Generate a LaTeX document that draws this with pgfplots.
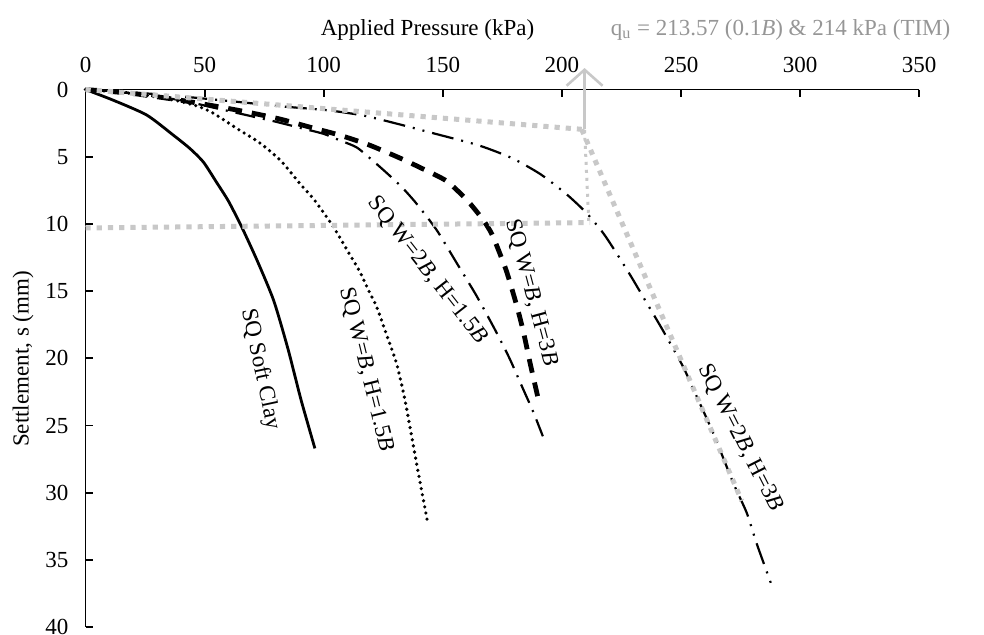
\documentclass[border=0pt]{standalone}
\usepackage{pgfplots}
\pgfplotsset{compat=1.18}
\usepackage{fontspec}
\setmainfont{Liberation Serif}
\usetikzlibrary{arrows.meta}

\definecolor{refgray}{RGB}{200,200,200}
\definecolor{titlegray}{RGB}{150,150,150}

% load-settlement curves (applied pressure kPa, settlement mm)
\pgfplotstableread{
p s
0 0
11.7 0.8
25.7 1.9
36.9 3.4
43.9 4.4
49.5 5.4
55 6.9
60 8.3
65.5 10.2
72 12.7
79 15.7
85 19.3
90.5 23.1
96.3 26.7
}\softclay

\pgfplotstableread{
p s
0 0
15 0.2
30 0.55
40 0.9
48 1.3
54 1.8
64 2.95
73 3.95
82 5.3
90 7.0
96 8.2
104 10.2
110 12.0
115 13.5
119 15.0
122.3 16.2
126.5 18.3
130.6 20.4
134 23.0
136.6 25.5
140 28.8
143.4 32.0
}\wbhonefive

\pgfplotstableread{
p s
0 0
20 0.3
40 0.8
55 1.4
70 2.0
80 2.4
90 2.85
100 3.3
107 3.8
113.8 4.3
120 5.2
126.4 6.2
133 7.3
139 8.5
147.4 10.45
155.8 12.9
164 15.3
172 17.9
178 20.0
183.5 22.2
188 24.0
192 25.8
}\wtwobhonefive

\pgfplotstableread{
p s
0 0
20 0.3
40 0.8
56.5 1.3
67.7 1.67
81.7 2.2
94.2 2.8
106.8 3.4
119.4 4.15
132 5.1
141 5.85
151.5 6.8
160 8.2
166.5 9.6
170.7 10.8
176.5 13.4
180.9 16.0
183.8 18.0
186.7 20.4
190.3 23.2
}\wbhthree

\pgfplotstableread{
p s
0 0
30 0.35
60 0.85
82 1.25
102 1.55
117 1.95
132 2.6
147 3.3
165 4.15
179 5.1
191 6.3
202 7.8
210.4 9.2
217.4 10.7
223 12.2
229 13.9
235 15.7
242 17.8
250.8 20.6
257 23.0
263.6 25.6
272 29.3
277.6 31.5
281.8 33.8
288.1 36.9
}\wtwobhthree

\begin{document}
\begin{tikzpicture}[font=\fontsize{11.5}{13.8}\selectfont]
\begin{axis}[
  scale only axis,
  width=416.75pt, height=268.75pt,
  xmin=0, xmax=350, ymin=0, ymax=40,
  y dir=reverse,
  axis x line*=top, axis y line*=left,
  axis line style={-, line width=0.9pt},
  tick align=inside, major tick length=3.5pt,
  tick style={black, line width=0.9pt},
  xtick={0,50,...,350}, ytick={0,5,...,40},
  /pgf/number format/assume math mode=true,
  xticklabel style={yshift=5pt},
  yticklabel style={xshift=-5pt},
  every axis plot/.append style={smooth, tension=0.4},
  clip=false,
]
\coordinate (BL) at (axis cs:-35.9,40.51);
\coordinate (TR) at (axis cs:377.2,-6.66);

\addplot[black, line width=1.4pt] table[x=p,y=s] {\softclay};
\addplot[black, line width=1.8pt, line cap=round, dash pattern=on 0pt off 3.1pt] table[x=p,y=s] {\wbhonefive};
\addplot[black, line width=1.1pt, dash pattern=on 10pt off 4pt on 1pt off 4pt] table[x=p,y=s] {\wtwobhonefive};
\addplot[black, line width=2.4pt, dash pattern=on 7pt off 5pt] table[x=p,y=s] {\wbhthree};
\addplot[black, line width=1.1pt, dash pattern=on 11pt off 4pt on 1pt off 4pt on 1pt off 4pt] table[x=p,y=s] {\wtwobhthree};

% tangent construction
\addplot[sharp plot, refgray, line width=2.5pt, dash pattern=on 2.6pt off 3pt] coordinates {(0,0) (208.3,2.96)};
\addplot[sharp plot, refgray, line width=2.5pt, dash pattern=on 2.6pt off 3pt] coordinates {(208.3,2.96) (275.5,30.6)};
\addplot[sharp plot, refgray, line width=2.5pt, dash pattern=on 2.6pt off 3pt] coordinates {(0,10.3) (211.8,9.9)};
\addplot[sharp plot, refgray, line width=1.5pt, dash pattern=on 1.5pt off 2.5pt] coordinates {(209.5,3.0) (211.3,9.9)};
\draw[refgray, line width=1.3pt, -{Straight Barb[length=8pt,width=18pt,line width=1.3pt]}]
  (axis cs:209.5,2.96) -- (axis cs:209.5,-1.6);

% curve labels
\node[rotate=-78] at (axis cs:73.3,20.8) {SQ Soft Clay};
\node[rotate=-76] at (axis cs:117.7,20.8) {SQ W=\textit{B}, H=1.5\textit{B}};
\node[rotate=-52] at (axis cs:143.4,13.43) {SQ W=2\textit{B}, H=1.5\textit{B}};
\node[rotate=-75] at (axis cs:187,15.1) {SQ W=\textit{B}, H=3\textit{B}};
\node[rotate=-63] at (axis cs:274.8,25.9) {SQ W=2\textit{B}, H=3\textit{B}};

% axis titles
\node[anchor=base] at (axis cs:143.6,-4.05) {Applied Pressure (kPa)};
\node[anchor=base, text=titlegray] at (axis cs:291.8,-4.05) {q\textsubscript{u} = 213.57 (0.1\textit{B}) \& 214 kPa (TIM)};
\node[rotate=90] at (axis cs:-26.2,20.05) {Settlement, s (mm)};
\end{axis}
\pgfresetboundingbox
\path[use as bounding box] (BL) rectangle (TR);
\end{tikzpicture}
\end{document}
